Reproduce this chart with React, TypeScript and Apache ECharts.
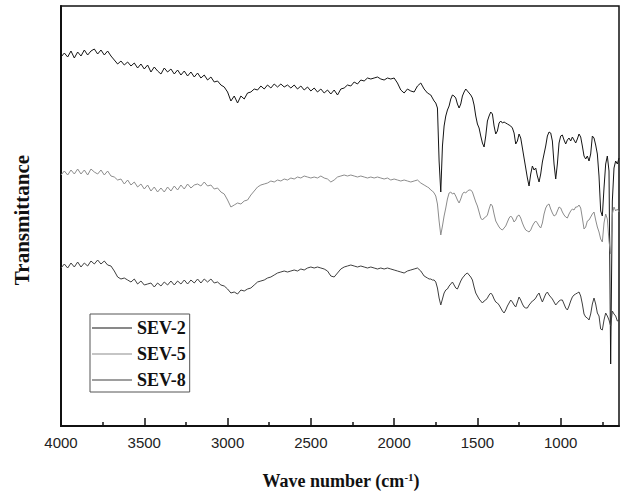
import React, { useEffect, useRef } from "react";
import * as echarts from "echarts";

// Wavenumber grid (cm^-1), shared by all three spectra
const wave = [
  4000, 3980, 3960, 3940, 3920, 3900, 3880, 3860, 3840, 3820,
  3800, 3780, 3760, 3740, 3720, 3700, 3680, 3660, 3640, 3620,
  3600, 3580, 3560, 3540, 3520, 3500, 3480, 3460, 3440, 3420,
  3400, 3380, 3360, 3340, 3320, 3300, 3280, 3260, 3240, 3220,
  3200, 3180, 3160, 3140, 3120, 3100, 3080, 3060, 3040, 3020,
  3000, 2980, 2960, 2940, 2920, 2900, 2880, 2860, 2840, 2820,
  2800, 2780, 2760, 2740, 2720, 2700, 2680, 2660, 2640, 2620,
  2600, 2580, 2560, 2540, 2520, 2500, 2480, 2460, 2440, 2420,
  2400, 2380, 2360, 2340, 2320, 2300, 2280, 2260, 2240, 2220,
  2200, 2180, 2160, 2140, 2120, 2100, 2080, 2060, 2040, 2020,
  2000, 1980, 1960, 1940, 1920, 1900, 1880, 1860, 1840, 1820,
  1800, 1790, 1780, 1770, 1760, 1750, 1740, 1730, 1720, 1710,
  1700, 1690, 1680, 1670, 1660, 1650, 1640, 1630, 1620, 1610,
  1600, 1590, 1580, 1570, 1560, 1550, 1540, 1530, 1520, 1510,
  1500, 1490, 1480, 1470, 1460, 1450, 1440, 1430, 1420, 1410,
  1400, 1390, 1380, 1370, 1360, 1350, 1340, 1330, 1320, 1310,
  1300, 1290, 1280, 1270, 1260, 1250, 1240, 1230, 1220, 1210,
  1200, 1190, 1180, 1170, 1160, 1150, 1140, 1130, 1120, 1110,
  1100, 1090, 1080, 1070, 1060, 1050, 1040, 1030, 1020, 1010,
  1000, 990, 980, 970, 960, 950, 940, 930, 920, 910,
  900, 890, 880, 870, 860, 850, 840, 830, 820, 810,
  800, 790, 780, 770, 760, 750, 740, 730, 720, 710,
  700, 690, 680, 670, 660, 650,
];

// Transmittance (arbitrary units, offset spectra)
const sev2 = [
  369, 373, 369, 375, 368, 374, 370, 376, 371, 375,
  377, 372, 376, 371, 375, 370, 366, 362, 365, 361,
  364, 360, 363, 358, 362, 357, 361, 354, 359, 355,
  352, 358, 354, 357, 352, 356, 351, 355, 350, 354,
  349, 353, 348, 351, 346, 349, 344, 345, 341, 339,
  334, 325, 330, 323, 330, 327, 333, 334, 337, 336,
  340, 337, 341, 338, 342, 339, 342, 339, 341, 338,
  341, 337, 340, 336, 339, 335, 338, 334, 337, 333,
  336, 332, 336, 331, 337, 338, 341, 340, 344, 342,
  346, 345, 348, 347, 348, 349, 347, 346, 348, 347,
  348, 343, 336, 333, 337, 335, 334, 340, 343, 337,
  333, 332, 331, 328, 325, 323, 318, 265, 234, 280,
  300, 310, 316, 320, 327, 331, 330, 328, 322, 318,
  322, 330, 334, 337, 335, 333, 331, 328, 321, 310,
  302, 298, 290, 283, 279, 290, 305, 310, 314, 312,
  300, 292, 295, 303, 305, 303, 304, 303, 302, 301,
  300, 298, 293, 282, 285, 292, 288, 278, 268, 258,
  248, 240, 252, 260, 256, 258, 250, 244, 252, 264,
  272, 280, 290, 294, 293, 285, 262, 247, 262, 283,
  290, 291, 286, 282, 286, 288, 285, 289, 286, 283,
  287, 292, 289, 280, 270, 267, 270, 265, 272, 290,
  288, 281, 272, 250, 215, 210, 238, 262, 270, 255,
  62, 225, 258, 265, 262, 268,
];

const sev5 = [
  251, 255, 251, 256, 252, 257, 252, 256, 251, 257,
  254, 252, 256, 251, 255, 250, 249, 246, 247, 242,
  246, 241, 244, 239, 242, 237, 241, 235, 239, 234,
  238, 234, 239, 235, 240, 236, 241, 237, 242, 238,
  241, 242, 240, 244, 240, 241, 237, 238, 234, 232,
  226, 219, 221, 223, 222, 225, 226, 231, 235, 239,
  241, 242, 243, 245, 244, 246, 245, 247, 246, 248,
  247, 249, 248, 250, 249, 248, 249, 248, 250, 248,
  247, 244, 246, 249, 250, 251, 250, 251, 250, 249,
  250, 249, 248, 249, 248, 249, 248, 247, 248, 246,
  247, 246, 245, 246, 245, 244, 245, 246, 243, 241,
  239, 238, 236, 235, 233, 230, 222, 205, 191, 200,
  210, 218, 227, 233, 234, 232, 233, 230, 226, 223,
  227, 232, 234, 233, 235, 236, 236, 234, 229, 224,
  220, 214, 208, 206, 208, 209, 211, 217, 222, 220,
  212, 205, 202, 199, 197, 196, 198, 200, 204, 208,
  210, 208, 204, 206, 210, 211, 208, 203, 199, 196,
  195, 194, 196, 200, 203, 205, 203, 200, 198, 203,
  212, 218, 221, 222, 217, 213, 210, 211, 215, 219,
  218, 214, 211, 209, 208, 212, 215, 217, 216, 219,
  219, 221, 218, 208, 197, 199, 205, 206, 209, 212,
  214, 206, 199, 194, 187, 184, 203, 212, 207, 185,
  172, 212, 219, 215, 217, 214,
];

const sev8 = [
  158, 162, 158, 163, 159, 164, 159, 163, 160, 165,
  162, 166, 162, 165, 161, 160, 155, 149, 147, 148,
  146, 144, 147, 142, 145, 141, 142, 143, 139, 143,
  140, 144, 141, 145, 141, 145, 142, 146, 142, 146,
  143, 147, 143, 147, 144, 147, 143, 144, 141, 140,
  137, 133, 134, 132, 136, 135, 137, 138, 141, 144,
  145, 146, 148, 149, 151, 153, 154, 155, 154, 155,
  156, 155, 157, 156, 158, 159, 158, 159, 158, 157,
  155, 150, 149, 153, 157, 159, 160, 161, 160, 159,
  160, 159, 158, 159, 158, 157, 158, 157, 158, 157,
  156, 155, 154, 153, 155, 156, 157, 158, 155, 150,
  148, 147, 147, 146, 146, 144, 138, 128, 121, 127,
  133, 136, 137, 140, 142, 144, 141, 138, 137, 141,
  145, 148, 150, 152, 153, 151, 149, 146, 139, 133,
  130, 127, 125, 123, 125, 126, 128, 131, 133, 131,
  127, 124, 123, 121, 118, 115, 113, 116, 120, 123,
  126, 124, 121, 119, 124, 129, 126, 122, 119, 118,
  118, 121, 123, 125, 126, 128, 131, 133, 128, 124,
  128, 132, 134, 131, 129, 127, 124, 121, 123, 125,
  126, 126, 122, 118, 116, 120, 125, 129, 131, 132,
  133, 134, 130, 122, 112, 109, 108, 106, 112, 122,
  128, 122, 113, 110, 97, 96, 106, 113, 110, 106,
  100, 115, 112, 110, 105, 106,
];

const seriesNames = ["SEV-2", "SEV-5", "SEV-8"];
const seriesColors = ["#151515", "#8c8c8c", "#3f3f3f"];
const majorTicks = [4000, 3500, 3000, 2500, 2000, 1500, 1000];
const minorTicks = [3750, 3250, 2750, 2250, 1750, 1250, 750];

const SERIF = "'Liberation Serif', 'Times New Roman', serif";
const SANS = "'Liberation Sans', Arial, sans-serif";

export default function App() {
  const ref = useRef<HTMLDivElement>(null);
  useEffect(() => {
    document.body.style.margin = "0";
    if (!ref.current) return;
    const chart = echarts.init(ref.current, null, { renderer: "svg" });
    const values = [sev2, sev5, sev8];
    const xCommon = {
      type: "value" as const,
      inverse: true,
      min: 650,
      max: 4000,
      position: "bottom" as const,
      splitLine: { show: false },
    };
    chart.setOption({
      animation: false,
      backgroundColor: "#ffffff",
      grid: {
        left: 61,
        right: 2,
        top: 6,
        bottom: 67,
        show: true,
        borderColor: "#111",
        borderWidth: 1.5,
      },
      xAxis: [
        {
          ...xCommon,
          axisLine: { show: true, lineStyle: { color: "#111", width: 2 } },
          axisTick: {
            show: true,
            inside: true,
            length: 8,
            lineStyle: { color: "#111", width: 1.5 },
            customValues: majorTicks,
          },
          axisLabel: {
            show: true,
            customValues: majorTicks,
            formatter: (v: number) => String(v),
            margin: 9,
            fontFamily: SANS,
            fontSize: 15,
            color: "#222",
          },
        },
        {
          ...xCommon,
          axisLine: { show: false },
          axisTick: {
            show: true,
            inside: true,
            length: 4,
            lineStyle: { color: "#111", width: 1.5 },
            customValues: minorTicks,
          },
          axisLabel: { show: false },
        },
      ],
      yAxis: {
        type: "value",
        min: 0,
        max: 420,
        axisLine: { show: true, lineStyle: { color: "#111", width: 2 } },
        axisTick: { show: false },
        axisLabel: { show: false },
        splitLine: { show: false },
      },
      legend: {
        orient: "vertical",
        left: 90,
        top: 314,
        padding: [4, 4, 2, 2],
        itemWidth: 40,
        itemHeight: 1,
        itemGap: 6,
        icon: "rect",
        borderColor: "#555",
        borderWidth: 1,
        data: seriesNames,
        textStyle: {
          fontFamily: SERIF,
          fontWeight: "bold",
          fontSize: 18,
          color: "#111",
          lineHeight: 20,
        },
      },
      graphic: [
        {
          type: "text",
          x: 22,
          y: 220,
          rotation: Math.PI / 2,
          style: {
            text: "Transmittance",
            align: "center",
            verticalAlign: "middle",
            fontFamily: SERIF,
            fontWeight: "bold",
            fontSize: 21,
            fill: "#111",
          },
        },
        {
          type: "text",
          x: 341,
          y: 481,
          style: {
            text: "Wave number (cm{sup|-1}{p|)}",
            align: "center",
            verticalAlign: "middle",
            fontFamily: SERIF,
            fontWeight: "bold",
            fontSize: 18,
            fill: "#111",
            rich: {
              sup: {
                fontFamily: SERIF,
                fontWeight: "bold",
                fontSize: 11,
                fill: "#111",
                verticalAlign: "bottom",
                padding: [0, 0, 9, 0],
              },
              p: {
                fontFamily: SERIF,
                fontWeight: "bold",
                fontSize: 18,
                fill: "#111",
              },
            },
          },
        },
      ],
      series: values.map((vals, k) => ({
        name: seriesNames[k],
        type: "line",
        xAxisIndex: 0,
        symbol: "none",
        showSymbol: false,
        lineStyle: { color: seriesColors[k], width: 1 },
        itemStyle: { color: seriesColors[k] },
        data: wave.map((w, i) => [w, vals[i]]),
      })),
    });
    return () => chart.dispose();
  }, []);
  return (
    <div
      ref={ref}
      style={{ position: "fixed", left: 0, top: 0, width: 621, height: 493 }}
    />
  );
}
